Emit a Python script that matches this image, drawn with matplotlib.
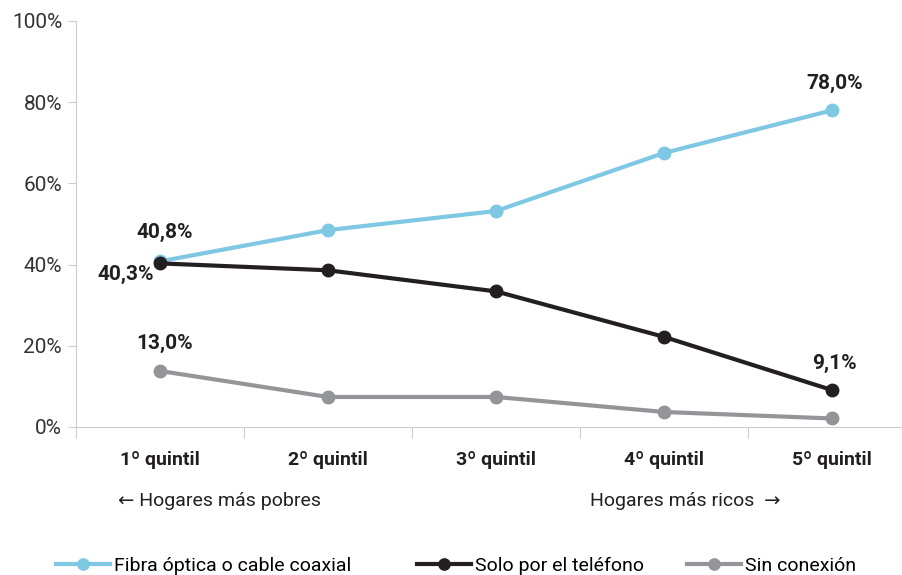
import matplotlib.pyplot as plt
import numpy as np

quintiles = ["1º quintil", "2º quintil", "3º quintil", "4º quintil", "5º quintil"]
fibra = [40.8, 48.5, 53.2, 67.5, 78.0]
telefono = [40.3, 38.6, 33.4, 22.2, 9.1]
sin_conexion = [13.8, 7.4, 7.4, 3.7, 2.1]
y_ticks = [0, 20, 40, 60, 80, 100]

col_fibra = "#7ec8e3"
col_tel = "#231f20"
col_sin = "#939598"

plt.rcParams["font.family"] = ["Roboto", "DejaVu Sans"]

fig = plt.figure(figsize=(9.02, 5.75), dpi=100)
# axes runs a little past the right edge, as in the original
ax = fig.add_axes([76 / 902, 1 - 427 / 575, 840 / 902, 406 / 575])

x = np.arange(len(quintiles))
l1, = ax.plot(x, fibra, color=col_fibra, lw=3, marker="o", ms=9, zorder=3)
l2, = ax.plot(x, telefono, color=col_tel, lw=3, marker="o", ms=9, zorder=4)
l3, = ax.plot(x, sin_conexion, color=col_sin, lw=3, marker="o", ms=9, zorder=3)

ax.set_xlim(-0.5, 4.5)
ax.set_ylim(0, 100)

# y axis
ax.set_yticks(y_ticks)
ax.set_yticklabels([f"{v}%" for v in y_ticks], fontsize=15, color="#333333")
ax.tick_params(axis="y", length=6, color="#cccccc", pad=4)

# x axis: ticks between categories, labels centred
ax.set_xticks(np.arange(-0.5, 5, 1.0))
ax.set_xticklabels([])
ax.set_xticks(x, minor=True)
ax.set_xticklabels(quintiles, minor=True, fontsize=14, fontweight="bold", color="#231f20")
ax.tick_params(axis="x", which="major", length=8, color="#cccccc")
ax.tick_params(axis="x", which="minor", length=0, pad=17)

for s in ["top", "right"]:
    ax.spines[s].set_visible(False)
ax.spines["left"].set_color("#cccccc")
ax.spines["bottom"].set_color("#cccccc")

# data labels
lab = dict(fontsize=15, fontweight="bold", color="#231f20", ha="center", va="center",
           textcoords="offset points")
ax.annotate("40,8%", (0, fibra[0]), xytext=(3.6, 21), **lab)
ax.annotate("40,3%", (0, telefono[0]), xytext=(-24.5, -8), **lab)
ax.annotate("13,0%", (0, sin_conexion[0]), xytext=(3.6, 20), **lab)
ax.annotate("78,0%", (4, fibra[4]), xytext=(2, 19.5), **lab)
ax.annotate("9,1%", (4, telefono[4]), xytext=(2, 19.5), **lab)

fig.text(118 / 902, 1 - 501 / 575, "← Hogares más pobres", fontsize=14, color="#231f20", va="center")
fig.text(780 / 902, 1 - 501 / 575, "Hogares más ricos  →", fontsize=14, color="#231f20",
         va="center", ha="right")

# legend entries placed one by one
leg_items = [(l1, "Fibra óptica o cable coaxial", 56), (l2, "Solo por el teléfono", 417),
             (l3, "Sin conexión", 687)]
for h, t, px in leg_items:
    fig.legend([h], [t], loc="center left", bbox_to_anchor=(px / 902, 1 - 566 / 575),
               frameon=False, fontsize=14, handlelength=2.8, handletextpad=0.2,
               borderaxespad=0, borderpad=0, markerscale=0.9)

fig.savefig("out.png", dpi=100)
